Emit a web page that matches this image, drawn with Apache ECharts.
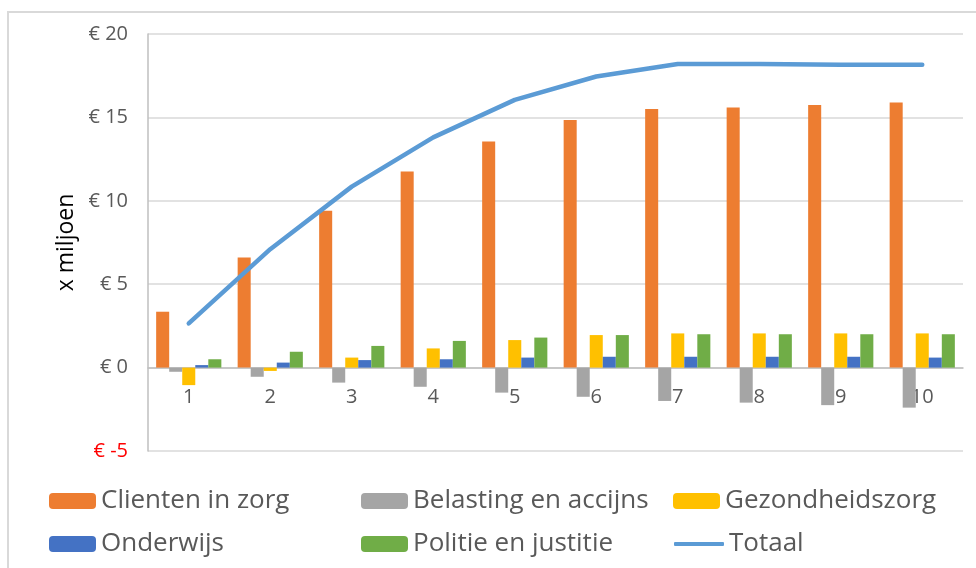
<!DOCTYPE html>
<html>
<head>
<meta charset="utf-8">
<script src="https://cdn.jsdelivr.net/npm/echarts@6/dist/echarts.min.js"></script>
<style>
  html, body { margin: 0; padding: 0; background: #fff; }
  #chart { width: 976px; height: 568px; }
</style>
</head>
<body>
<div id="chart"></div>
<script>
// Jaren (categorieën) en bedragen in miljoenen euro's
const jaren = ['1', '2', '3', '4', '5', '6', '7', '8', '9', '10'];
const clientenInZorg = [3.35, 6.6, 9.4, 11.75, 13.55, 14.85, 15.5, 15.6, 15.75, 15.9];
const belastingEnAccijns = [-0.25, -0.55, -0.9, -1.15, -1.5, -1.75, -2.0, -2.1, -2.25, -2.4];
const gezondheidszorg = [-1.05, -0.2, 0.6, 1.15, 1.65, 1.95, 2.05, 2.05, 2.05, 2.05];
const onderwijs = [0.15, 0.3, 0.45, 0.5, 0.6, 0.65, 0.65, 0.65, 0.65, 0.6];
const politieEnJustitie = [0.5, 0.95, 1.3, 1.6, 1.8, 1.95, 2.0, 2.0, 2.0, 2.0];
const totaal = [2.65, 7.1, 10.85, 13.8, 16.05, 17.45, 18.2, 18.2, 18.15, 18.15];

const Y_MIN = -5, Y_MAX = 20, Y_STEP = 5;

const FONT = '"Open Sans", "Noto Sans", sans-serif';
const TEXT_GREY = '#595959';
const W = 976, H = 568;
const GRID = { left: 148, right: 13, top: 34, bottom: 117 };

// the category axis sits on the zero line; shift it up from the grid bottom
const plotHeight = H - GRID.top - GRID.bottom;
const zeroOffset = -plotHeight * (0 - Y_MIN) / (Y_MAX - Y_MIN);

const chart = echarts.init(document.getElementById('chart'), null, { renderer: 'canvas' });

function barSeries(name, data, color) {
  return {
    name: name,
    type: 'bar',
    data: data,
    barGap: '0%',
    barCategoryGap: '20%',
    itemStyle: { color: color },
    z: 2
  };
}

// one legend block per entry so the three columns line up
function legendItem(name, left, top, extra) {
  return Object.assign({
    data: [name],
    left: left,
    top: top,
    itemWidth: 47,
    itemHeight: 16,
    itemGap: 0,
    padding: 0,
    textStyle: { fontFamily: FONT, fontSize: 26, color: TEXT_GREY },
    selectedMode: false
  }, extra || {});
}

const option = {
  animation: false,
  backgroundColor: '#fff',
  graphic: [{
    type: 'rect',
    shape: { x: 8, y: 12, width: 1000, height: 600 },
    style: { fill: 'none', stroke: '#D9D9D9', lineWidth: 2 },
    silent: true
  }],
  grid: Object.assign({ containLabel: false }, GRID),
  legend: [
    legendItem('Clienten in zorg', 49, 488),
    legendItem('Belasting en accijns', 361, 488),
    legendItem('Gezondheidszorg', 673, 488),
    legendItem('Onderwijs', 49, 531),
    legendItem('Politie en justitie', 361, 531),
    legendItem('Totaal', 674, 531, {
      itemWidth: 50,
      itemHeight: 4,
      icon: 'roundRect',
      itemStyle: { color: '#5B9BD5' }
    })
  ],
  xAxis: {
    type: 'category',
    data: jaren,
    position: 'bottom',
    offset: zeroOffset,
    axisLine: { onZero: false, lineStyle: { color: '#BFBFBF', width: 1.5 } },
    axisTick: { show: false },
    axisLabel: {
      margin: 20,
      fontFamily: FONT,
      fontSize: 20,
      color: TEXT_GREY
    },
    splitLine: { show: false }
  },
  yAxis: {
    type: 'value',
    min: Y_MIN,
    max: Y_MAX,
    interval: Y_STEP,
    name: 'x miljoen',
    nameLocation: 'middle',
    nameGap: 57,
    nameTextStyle: { fontFamily: FONT, fontSize: 23, color: '#000' },
    axisLine: { show: true, lineStyle: { color: '#BFBFBF', width: 1.5 } },
    axisTick: { show: false },
    axisLabel: {
      margin: 20,
      fontFamily: FONT,
      fontSize: 20,
      formatter: v => '€ ' + v,
      color: v => (v < 0 ? '#FF0000' : TEXT_GREY)
    },
    splitLine: { lineStyle: { color: '#D9D9D9', width: 1.5 } }
  },
  series: [
    barSeries('Clienten in zorg', clientenInZorg, '#ED7D31'),
    barSeries('Belasting en accijns', belastingEnAccijns, '#A5A5A5'),
    barSeries('Gezondheidszorg', gezondheidszorg, '#FFC000'),
    barSeries('Onderwijs', onderwijs, '#4472C4'),
    barSeries('Politie en justitie', politieEnJustitie, '#70AD47'),
    {
      name: 'Totaal',
      type: 'line',
      data: totaal,
      symbol: 'none',
      showSymbol: false,
      lineStyle: { color: '#5B9BD5', width: 4.5, cap: 'round', join: 'round' },
      itemStyle: { color: '#5B9BD5' },
      z: 5
    }
  ]
};

chart.setOption(option);
</script>
</body>
</html>
